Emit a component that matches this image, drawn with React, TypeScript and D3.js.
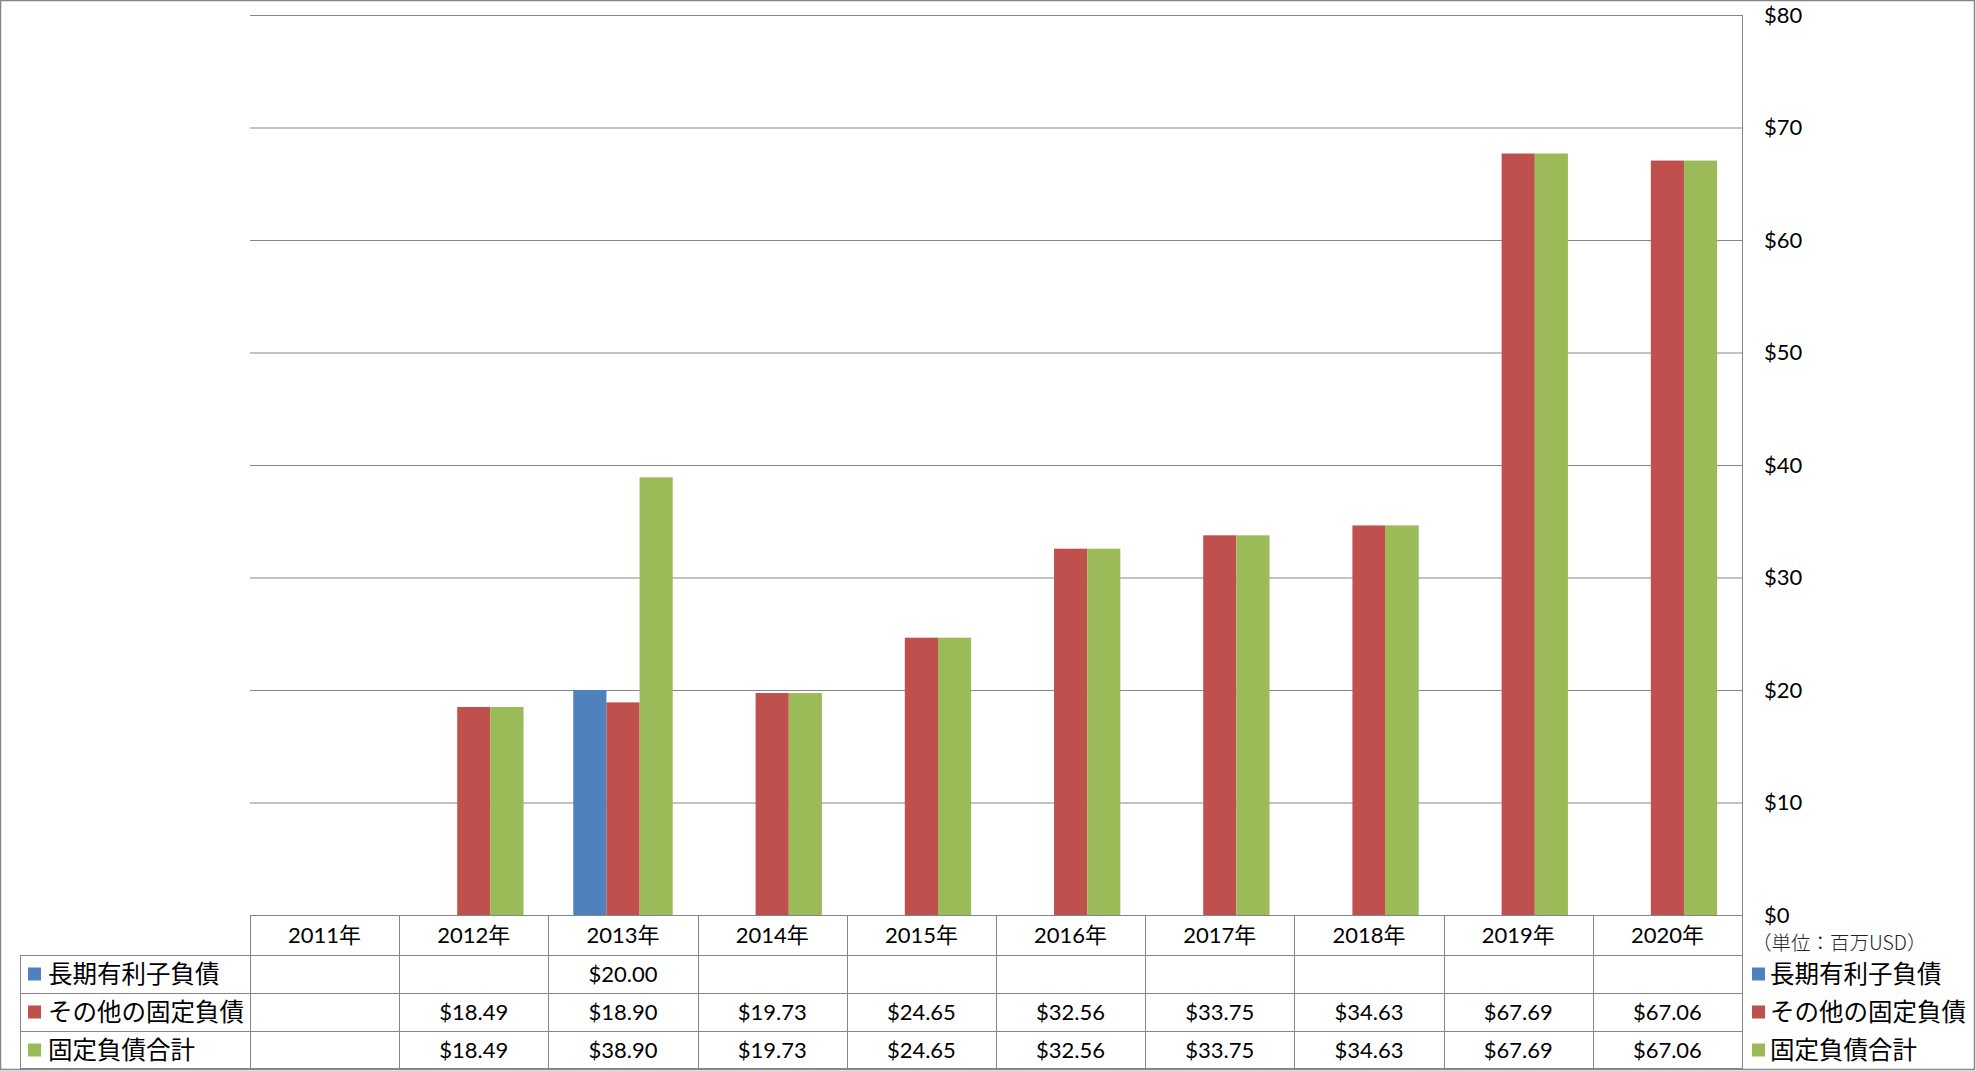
import React from "react";
import * as d3 from "d3";

const years = ["2011年", "2012年", "2013年", "2014年", "2015年", "2016年", "2017年", "2018年", "2019年", "2020年"];
const seriesNames = ["長期有利子負債", "その他の固定負債", "固定負債合計"];
const seriesColors = ["#4F81BD", "#C0504D", "#9BBB59"];
const longTermDebt: (number | null)[] = [null, null, 20.0, null, null, null, null, null, null, null];
const otherFixed: (number | null)[] = [null, 18.49, 18.9, 19.73, 24.65, 32.56, 33.75, 34.63, 67.69, 67.06];
const totalFixed: (number | null)[] = [null, 18.49, 38.9, 19.73, 24.65, 32.56, 33.75, 34.63, 67.69, 67.06];
const yTicks = [0, 10, 20, 30, 40, 50, 60, 70, 80];
const unitLabel = "（単位：百万USD）";

const W = 1976;
const H = 1071;
const plotL = 250;
const plotR = 1742;
const plotT = 15;
const plotB = 915;
const rowH = [40, 38, 38, 38];
const tableL = 20;
const GRID = "#868686";
const FONT = "Lato, 'Noto Sans CJK JP', sans-serif";
const CJK = "'Noto Sans CJK JP', sans-serif";

export default function App() {
  const seriesData = [longTermDebt, otherFixed, totalFixed];
  const x = d3.scaleBand<string>().domain(years).range([plotL, plotR]).padding(0);
  const inner = d3
    .scaleBand<string>()
    .domain(seriesNames)
    .range([0, x.step()])
    .paddingInner(0)
    .paddingOuter(0.75);
  const y = d3.scaleLinear().domain([0, 80]).range([plotB, plotT]);

  const rowTops: number[] = [];
  let acc = plotB;
  rowH.forEach((h) => {
    rowTops.push(acc);
    acc += h;
  });
  const tableBottom = acc;

  return (
    <svg
      width={W}
      height={H}
      style={{ position: "absolute", left: 0, top: 0, background: "#fff" }}
      fontFamily={FONT}
    >
      <rect x={0} y={0} width={W} height={H} fill="#fff" />
      {yTicks.map((t) => (
        <line key={"g" + t} x1={plotL} x2={plotR} y1={y(t) + 0.5} y2={y(t) + 0.5} stroke={GRID} strokeWidth={1} />
      ))}
      {seriesData.map((vals, si) =>
        vals.map((v, i) =>
          v == null ? null : (
            <rect
              key={`b${si}-${i}`}
              x={(x(years[i]) as number) + (inner(seriesNames[si]) as number)}
              y={y(v)}
              width={inner.bandwidth()}
              height={y(0) - y(v)}
              fill={seriesColors[si]}
            />
          )
        )
      )}
      <line x1={plotR + 0.5} x2={plotR + 0.5} y1={plotT} y2={tableBottom} stroke={GRID} strokeWidth={1} />
      {yTicks.map((t) => (
        <text key={"t" + t} x={1764} y={y(t)} dy="0.36em" fontSize={22} fill="#000">
          {"$" + t}
        </text>
      ))}
      <text x={1752} y={943} dy="0.36em" fontSize={19.5} fill="#222" fontFamily={CJK} fontWeight={300}>
        {unitLabel}
      </text>
      <line x1={plotL} x2={plotR} y1={plotB + 0.5} y2={plotB + 0.5} stroke={GRID} />
      {rowTops.slice(1).map((ty, r) => (
        <line key={"rl" + r} x1={tableL} x2={plotR} y1={ty + 0.5} y2={ty + 0.5} stroke={GRID} />
      ))}
      <line x1={tableL} x2={plotR} y1={tableBottom - 0.5} y2={tableBottom - 0.5} stroke={GRID} />
      <line x1={tableL + 0.5} x2={tableL + 0.5} y1={rowTops[1]} y2={tableBottom} stroke={GRID} />
      {years.map((yr, i) => (
        <line
          key={"vl" + i}
          x1={Math.round(x(yr) as number) + 0.5}
          x2={Math.round(x(yr) as number) + 0.5}
          y1={plotB}
          y2={tableBottom}
          stroke={GRID}
        />
      ))}
      {years.map((yr, i) => (
        <text
          key={"yr" + i}
          x={(x(yr) as number) + x.step() / 2}
          y={plotB + rowH[0] / 2}
          dy="0.36em"
          textAnchor="middle"
          fontSize={22}
          fill="#000"
        >
          {yr}
        </text>
      ))}
      {seriesData.map((vals, si) => {
        const top = rowTops[si + 1];
        const cy = top + rowH[si + 1] / 2;
        return (
          <g key={"row" + si}>
            <rect x={28} y={cy - 6.5} width={13} height={13} fill={seriesColors[si]} />
            <text x={48} y={cy} dy="0.36em" fontSize={24.5} fill="#000" fontFamily={CJK}>
              {seriesNames[si]}
            </text>
            {vals.map((v, i) =>
              v == null ? null : (
                <text
                  key={"v" + i}
                  x={(x(years[i]) as number) + x.step() / 2}
                  y={cy}
                  dy="0.36em"
                  textAnchor="middle"
                  fontSize={22}
                  fill="#000"
                >
                  {"$" + v.toFixed(2)}
                </text>
              )
            )}
            <rect x={1752} y={cy - 6.5} width={13} height={13} fill={seriesColors[si]} />
            <text x={1770} y={cy} dy="0.36em" fontSize={24.5} fill="#000" fontFamily={CJK}>
              {seriesNames[si]}
            </text>
          </g>
        );
      })}
      <rect x={0.5} y={0.5} width={W - 2} height={H - 2} fill="none" stroke={GRID} strokeWidth={1.5} />
    </svg>
  );
}
